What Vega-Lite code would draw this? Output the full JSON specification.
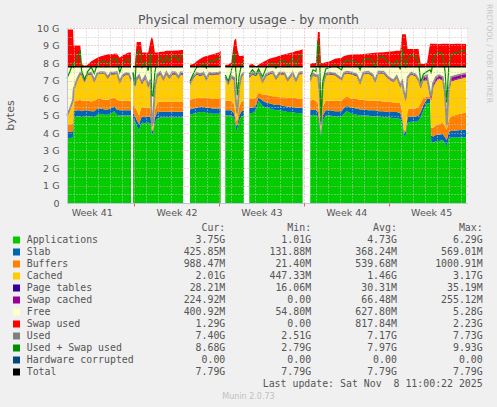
{
  "$schema": "https://vega.github.io/schema/vega-lite/v6.json",
  "width": 400,
  "height": 175,
  "autosize": {"type": "none"},
  "padding": {"left": 67, "top": 28, "right": 30, "bottom": 204},
  "background": "#F0F0F0",
  "datasets": {
    "mem": [
      {"t":0,"seg":"a","app":3.7,"slab":0.35,"buf":0.4,"cache":0.45,"pt":0.03,"swc":0.07,"free":2.79,"swap":2.13,"used":5,"us":7.13},
      {"t":0.25,"seg":"a","app":3.72,"slab":0.36,"buf":0.42,"cache":0.8,"pt":0.03,"swc":0.07,"free":2.39,"swap":2.13,"used":5.4,"us":7.53},
      {"t":0.5,"seg":"a","app":3.75,"slab":0.35,"buf":0.45,"cache":1.25,"pt":0.03,"swc":0.07,"free":1.89,"swap":2.13,"used":5.9,"us":8.03},
      {"t":0.55,"seg":"a","app":4.9,"slab":0.35,"buf":0.55,"cache":0.6,"pt":0.03,"swc":0.07,"free":1.29,"swap":1.21,"used":6.5,"us":7.71},
      {"t":0.85,"seg":"a","app":4.95,"slab":0.35,"buf":0.55,"cache":1.15,"pt":0.03,"swc":0.07,"free":0.69,"swap":1.21,"used":7.1,"us":8.31},
      {"t":1.1,"seg":"a","app":4.95,"slab":0.35,"buf":0.6,"cache":1.45,"pt":0.03,"swc":0.07,"free":0.34,"swap":1.21,"used":7.45,"us":8.66},
      {"t":1.2,"seg":"a","app":4.9,"slab":0.35,"buf":0.6,"cache":1.45,"pt":0.03,"swc":0.09,"free":0.37,"swap":0.16,"used":7.42,"us":7.58},
      {"t":1.45,"seg":"a","app":4.95,"slab":0.35,"buf":0.55,"cache":1.05,"pt":0.03,"swc":0.07,"free":0.79,"swap":0.06,"used":7,"us":7.06},
      {"t":1.7,"seg":"a","app":4.95,"slab":0.35,"buf":0.55,"cache":1.45,"pt":0.03,"swc":0.07,"free":0.39,"swap":0.11,"used":7.4,"us":7.51},
      {"t":2,"seg":"a","app":4.95,"slab":0.3,"buf":0.55,"cache":1.55,"pt":0.03,"swc":0.07,"free":0.34,"swap":0.31,"used":7.45,"us":7.76},
      {"t":2.25,"seg":"a","app":4.9,"slab":0.35,"buf":0.6,"cache":1.05,"pt":0.03,"swc":0.07,"free":0.79,"swap":0.41,"used":7,"us":7.41},
      {"t":2.5,"seg":"a","app":5.05,"slab":0.35,"buf":0.55,"cache":1.4,"pt":0.03,"swc":0.04,"free":0.37,"swap":0.51,"used":7.42,"us":7.93},
      {"t":2.8,"seg":"a","app":5.1,"slab":0.3,"buf":0.55,"cache":1.45,"pt":0.03,"swc":0.05,"free":0.31,"swap":0.59,"used":7.48,"us":8.07},
      {"t":3.1,"seg":"a","app":5.05,"slab":0.3,"buf":0.55,"cache":1.48,"pt":0.03,"swc":0.05,"free":0.33,"swap":0.66,"used":7.46,"us":8.12},
      {"t":3.35,"seg":"a","app":5.05,"slab":0.3,"buf":0.55,"cache":1.2,"pt":0.03,"swc":0.07,"free":0.59,"swap":0.71,"used":7.2,"us":7.91},
      {"t":3.6,"seg":"a","app":5.1,"slab":0.3,"buf":0.55,"cache":1.4,"pt":0.03,"swc":0.07,"free":0.34,"swap":0.71,"used":7.45,"us":8.16},
      {"t":3.9,"seg":"a","app":5.25,"slab":0.3,"buf":0.5,"cache":1.3,"pt":0.03,"swc":0.07,"free":0.34,"swap":0.74,"used":7.45,"us":8.19},
      {"t":4.1,"seg":"a","app":5.05,"slab":0.3,"buf":0.55,"cache":1.5,"pt":0.03,"swc":0.05,"free":0.31,"swap":0.76,"used":7.48,"us":8.24},
      {"t":4.35,"seg":"a","app":5,"slab":0.3,"buf":0.55,"cache":1,"pt":0.03,"swc":0.07,"free":0.84,"swap":0.51,"used":6.95,"us":7.46},
      {"t":4.6,"seg":"a","app":5,"slab":0.3,"buf":0.55,"cache":1.35,"pt":0.03,"swc":0.07,"free":0.49,"swap":0.66,"used":7.3,"us":7.96},
      {"t":4.9,"seg":"a","app":5,"slab":0.3,"buf":0.55,"cache":1.5,"pt":0.03,"swc":0.04,"free":0.37,"swap":0.76,"used":7.42,"us":8.18},
      {"t":5.1,"seg":"a","app":5,"slab":0.3,"buf":0.55,"cache":1.45,"pt":0.03,"swc":0.07,"free":0.39,"swap":0.81,"used":7.4,"us":8.21},
      {"t":5.28,"seg":"a","app":5,"slab":0.3,"buf":0.5,"cache":1.15,"pt":0.03,"swc":0.07,"free":0.74,"swap":0.81,"used":7.05,"us":7.86},
      {"t":5.45,"seg":"b","app":4.85,"slab":0.3,"buf":0.45,"cache":1.7,"pt":0.03,"swc":0.09,"free":0.37,"swap":0.06,"used":7.42,"us":7.48},
      {"t":5.6,"seg":"b","app":4.7,"slab":0.3,"buf":0.5,"cache":1.1,"pt":0.03,"swc":0.07,"free":1.09,"swap":0.06,"used":6.7,"us":6.76},
      {"t":5.75,"seg":"b","app":4.4,"slab":0.35,"buf":0.55,"cache":1.7,"pt":0.03,"swc":0.12,"free":0.64,"swap":1.41,"used":7.15,"us":8.56},
      {"t":5.95,"seg":"b","app":4.15,"slab":0.35,"buf":0.5,"cache":2.2,"pt":0.03,"swc":0.07,"free":0.49,"swap":1.41,"used":7.3,"us":8.71},
      {"t":6.1,"seg":"b","app":4.5,"slab":0.35,"buf":0.55,"cache":1.5,"pt":0.03,"swc":0.07,"free":0.79,"swap":1.41,"used":7,"us":8.41},
      {"t":6.2,"seg":"b","app":4.6,"slab":0.35,"buf":0.55,"cache":1.3,"pt":0.03,"swc":0.12,"free":0.84,"swap":0.81,"used":6.95,"us":7.76},
      {"t":6.45,"seg":"b","app":4.55,"slab":0.35,"buf":0.55,"cache":1.65,"pt":0.03,"swc":0.12,"free":0.54,"swap":0.81,"used":7.25,"us":8.06},
      {"t":6.7,"seg":"b","app":4.6,"slab":0.35,"buf":0.5,"cache":1.15,"pt":0.03,"swc":0.12,"free":1.04,"swap":0.81,"used":6.75,"us":7.56},
      {"t":6.9,"seg":"b","app":4.55,"slab":0.35,"buf":0.5,"cache":1.5,"pt":0.03,"swc":0.12,"free":0.74,"swap":1.51,"used":7.05,"us":8.56},
      {"t":7,"seg":"b","app":3.95,"slab":0.2,"buf":0.1,"cache":0.1,"pt":0.03,"swc":0.07,"free":3.34,"swap":1.71,"used":4.45,"us":6.16},
      {"t":7.1,"seg":"b","app":3.9,"slab":0.2,"buf":0.1,"cache":0.3,"pt":0.03,"swc":0.07,"free":3.19,"swap":1.51,"used":4.6,"us":6.11},
      {"t":7.25,"seg":"b","app":4.6,"slab":0.3,"buf":0.4,"cache":1.2,"pt":0.03,"swc":0.12,"free":1.14,"swap":0.81,"used":6.65,"us":7.46},
      {"t":7.45,"seg":"b","app":4.85,"slab":0.35,"buf":0.55,"cache":1.45,"pt":0.03,"swc":0.12,"free":0.44,"swap":0.81,"used":7.35,"us":8.16},
      {"t":7.7,"seg":"b","app":4.88,"slab":0.34,"buf":0.58,"cache":1.55,"pt":0.03,"swc":0.1,"free":0.31,"swap":0.86,"used":7.48,"us":8.34},
      {"t":7.95,"seg":"b","app":4.88,"slab":0.34,"buf":0.58,"cache":1.2,"pt":0.03,"swc":0.07,"free":0.69,"swap":0.86,"used":7.1,"us":7.96},
      {"t":8.2,"seg":"b","app":4.88,"slab":0.34,"buf":0.58,"cache":1.55,"pt":0.03,"swc":0.1,"free":0.31,"swap":0.91,"used":7.48,"us":8.39},
      {"t":8.45,"seg":"b","app":4.88,"slab":0.34,"buf":0.58,"cache":1.3,"pt":0.03,"swc":0.07,"free":0.59,"swap":0.91,"used":7.2,"us":8.11},
      {"t":8.7,"seg":"b","app":4.88,"slab":0.34,"buf":0.58,"cache":1.55,"pt":0.03,"swc":0.1,"free":0.31,"swap":0.91,"used":7.48,"us":8.39},
      {"t":8.95,"seg":"b","app":4.88,"slab":0.34,"buf":0.58,"cache":1.55,"pt":0.03,"swc":0.08,"free":0.33,"swap":0.93,"used":7.46,"us":8.39},
      {"t":9.2,"seg":"b","app":4.88,"slab":0.34,"buf":0.58,"cache":1.3,"pt":0.03,"swc":0.07,"free":0.59,"swap":0.93,"used":7.2,"us":8.13},
      {"t":9.4,"seg":"b","app":4.88,"slab":0.34,"buf":0.58,"cache":1.55,"pt":0.03,"swc":0.09,"free":0.32,"swap":0.96,"used":7.47,"us":8.43},
      {"t":9.57,"seg":"b","app":4.88,"slab":0.34,"buf":0.58,"cache":1.5,"pt":0.03,"swc":0.12,"free":0.34,"swap":0.96,"used":7.45,"us":8.41},
      {"t":10.15,"seg":"c","app":5.05,"slab":0.3,"buf":0.55,"cache":0.85,"pt":0.03,"swc":0.07,"free":0.94,"swap":0.11,"used":6.85,"us":6.96},
      {"t":10.4,"seg":"c","app":5.1,"slab":0.3,"buf":0.55,"cache":1.15,"pt":0.03,"swc":0.07,"free":0.59,"swap":0.16,"used":7.2,"us":7.36},
      {"t":10.7,"seg":"c","app":5.15,"slab":0.3,"buf":0.55,"cache":1.35,"pt":0.03,"swc":0.07,"free":0.34,"swap":0.31,"used":7.45,"us":7.76},
      {"t":11,"seg":"c","app":5.2,"slab":0.3,"buf":0.5,"cache":1.25,"pt":0.03,"swc":0.07,"free":0.44,"swap":0.46,"used":7.35,"us":7.81},
      {"t":11.25,"seg":"c","app":5.2,"slab":0.3,"buf":0.55,"cache":1.3,"pt":0.03,"swc":0.07,"free":0.34,"swap":0.56,"used":7.45,"us":8.01},
      {"t":11.5,"seg":"c","app":5.15,"slab":0.3,"buf":0.55,"cache":1,"pt":0.03,"swc":0.07,"free":0.69,"swap":0.61,"used":7.1,"us":7.71},
      {"t":11.75,"seg":"c","app":5.15,"slab":0.3,"buf":0.55,"cache":1.35,"pt":0.03,"swc":0.07,"free":0.34,"swap":0.66,"used":7.45,"us":8.11},
      {"t":12,"seg":"c","app":5.1,"slab":0.3,"buf":0.55,"cache":1.35,"pt":0.03,"swc":0.07,"free":0.39,"swap":0.71,"used":7.4,"us":8.11},
      {"t":12.25,"seg":"c","app":5.1,"slab":0.3,"buf":0.55,"cache":1.4,"pt":0.03,"swc":0.05,"free":0.36,"swap":0.76,"used":7.43,"us":8.19},
      {"t":12.5,"seg":"c","app":5.1,"slab":0.3,"buf":0.55,"cache":1.4,"pt":0.03,"swc":0.07,"free":0.34,"swap":0.81,"used":7.45,"us":8.26},
      {"t":12.68,"seg":"c","app":5.1,"slab":0.3,"buf":0.55,"cache":1.45,"pt":0.03,"swc":0.05,"free":0.31,"swap":0.89,"used":7.48,"us":8.37},
      {"t":13.06,"seg":"d","app":5,"slab":0.3,"buf":0.55,"cache":1.25,"pt":0.03,"swc":0.07,"free":0.59,"swap":0.11,"used":7.2,"us":7.31},
      {"t":13.3,"seg":"d","app":5,"slab":0.3,"buf":0.55,"cache":0.9,"pt":0.03,"swc":0.07,"free":0.94,"swap":0.11,"used":6.85,"us":6.96},
      {"t":13.55,"seg":"d","app":5,"slab":0.3,"buf":0.55,"cache":1.3,"pt":0.03,"swc":0.07,"free":0.54,"swap":0.26,"used":7.25,"us":7.51},
      {"t":13.8,"seg":"d","app":4.8,"slab":0.3,"buf":0.5,"cache":1.4,"pt":0.03,"swc":0.12,"free":0.64,"swap":1.51,"used":7.15,"us":8.66},
      {"t":13.95,"seg":"d","app":4.15,"slab":0.25,"buf":0.3,"cache":0.9,"pt":0.03,"swc":0.12,"free":2.04,"swap":1.61,"used":5.75,"us":7.36},
      {"t":14.05,"seg":"d","app":4.2,"slab":0.25,"buf":0.3,"cache":0.25,"pt":0.03,"swc":0.12,"free":2.64,"swap":1.01,"used":5.15,"us":6.16},
      {"t":14.2,"seg":"d","app":4.7,"slab":0.3,"buf":0.5,"cache":1,"pt":0.03,"swc":0.12,"free":1.14,"swap":0.61,"used":6.65,"us":7.26},
      {"t":14.4,"seg":"d","app":4.95,"slab":0.3,"buf":0.55,"cache":1.4,"pt":0.03,"swc":0.07,"free":0.49,"swap":0.61,"used":7.3,"us":7.91},
      {"t":14.6,"seg":"d","app":5,"slab":0.3,"buf":0.55,"cache":1.5,"pt":0.03,"swc":0.07,"free":0.34,"swap":0.66,"used":7.45,"us":8.11},
      {"t":15.04,"seg":"e","app":5.15,"slab":0.3,"buf":0.5,"cache":1.2,"pt":0.03,"swc":0.07,"free":0.54,"swap":0.11,"used":7.25,"us":7.36},
      {"t":15.3,"seg":"e","app":5.15,"slab":0.3,"buf":0.5,"cache":1.4,"pt":0.03,"swc":0.07,"free":0.34,"swap":0.16,"used":7.45,"us":7.61},
      {"t":15.6,"seg":"e","app":5.3,"slab":0.3,"buf":0.45,"cache":1.2,"pt":0.03,"swc":0.07,"free":0.44,"swap":0.01,"used":7.35,"us":7.36},
      {"t":15.8,"seg":"e","app":5.85,"slab":0.2,"buf":0.25,"cache":1.15,"pt":0.03,"swc":0.07,"free":0.24,"swap":0.11,"used":7.55,"us":7.66},
      {"t":16.14,"seg":"e","app":5.55,"slab":0.3,"buf":0.35,"cache":0.65,"pt":0.03,"swc":0.07,"free":0.84,"swap":0.26,"used":6.95,"us":7.21},
      {"t":16.42,"seg":"e","app":5.45,"slab":0.3,"buf":0.45,"cache":1.05,"pt":0.03,"swc":0.07,"free":0.44,"swap":0.36,"used":7.35,"us":7.71},
      {"t":16.69,"seg":"e","app":5.4,"slab":0.3,"buf":0.45,"cache":1.2,"pt":0.03,"swc":0.07,"free":0.34,"swap":0.46,"used":7.45,"us":7.91},
      {"t":16.97,"seg":"e","app":5.35,"slab":0.3,"buf":0.45,"cache":1.3,"pt":0.03,"swc":0.07,"free":0.29,"swap":0.51,"used":7.5,"us":8.01},
      {"t":17.24,"seg":"e","app":5.3,"slab":0.3,"buf":0.5,"cache":0.95,"pt":0.03,"swc":0.07,"free":0.64,"swap":0.56,"used":7.15,"us":7.71},
      {"t":17.52,"seg":"e","app":5.3,"slab":0.3,"buf":0.45,"cache":1.3,"pt":0.03,"swc":0.07,"free":0.34,"swap":0.63,"used":7.45,"us":8.08},
      {"t":17.93,"seg":"e","app":5.25,"slab":0.3,"buf":0.5,"cache":1.3,"pt":0.03,"swc":0.07,"free":0.34,"swap":0.71,"used":7.45,"us":8.16},
      {"t":18.2,"seg":"e","app":5.2,"slab":0.3,"buf":0.5,"cache":0.95,"pt":0.03,"swc":0.07,"free":0.74,"swap":0.76,"used":7.05,"us":7.81},
      {"t":18.62,"seg":"e","app":5.2,"slab":0.3,"buf":0.5,"cache":1.35,"pt":0.03,"swc":0.07,"free":0.34,"swap":0.83,"used":7.45,"us":8.28},
      {"t":18.89,"seg":"e","app":5.15,"slab":0.3,"buf":0.55,"cache":0.9,"pt":0.03,"swc":0.07,"free":0.79,"swap":0.89,"used":7,"us":7.89},
      {"t":19.17,"seg":"e","app":5.15,"slab":0.3,"buf":0.5,"cache":1.4,"pt":0.03,"swc":0.07,"free":0.34,"swap":0.93,"used":7.45,"us":8.38},
      {"t":19.44,"seg":"e","app":5.1,"slab":0.35,"buf":0.5,"cache":1.45,"pt":0.03,"swc":0.07,"free":0.29,"swap":0.99,"used":7.5,"us":8.49},
      {"t":20.07,"seg":"f","app":5,"slab":0.3,"buf":0.55,"cache":1.1,"pt":0.03,"swc":0.07,"free":0.74,"swap":0.16,"used":7.05,"us":7.21},
      {"t":20.3,"seg":"f","app":5.05,"slab":0.3,"buf":0.55,"cache":1.4,"pt":0.03,"swc":0.07,"free":0.39,"swap":0.21,"used":7.4,"us":7.61},
      {"t":20.55,"seg":"f","app":5,"slab":0.3,"buf":0.55,"cache":1.35,"pt":0.03,"swc":0.07,"free":0.49,"swap":0.21,"used":7.3,"us":7.51},
      {"t":20.7,"seg":"f","app":4.9,"slab":0.3,"buf":0.5,"cache":1.5,"pt":0.03,"swc":0.07,"free":0.49,"swap":1.98,"used":7.3,"us":9.28},
      {"t":20.85,"seg":"f","app":4.3,"slab":0.2,"buf":0.3,"cache":1.4,"pt":0.03,"swc":0.12,"free":1.44,"swap":1.98,"used":6.35,"us":8.33},
      {"t":20.95,"seg":"f","app":3.8,"slab":0.2,"buf":0.1,"cache":0.2,"pt":0.03,"swc":0.12,"free":3.34,"swap":0.21,"used":4.45,"us":4.66},
      {"t":21.1,"seg":"f","app":4.7,"slab":0.3,"buf":0.5,"cache":1.1,"pt":0.03,"swc":0.12,"free":1.04,"swap":0.21,"used":6.75,"us":6.96},
      {"t":21.35,"seg":"f","app":5,"slab":0.3,"buf":0.55,"cache":1.45,"pt":0.03,"swc":0.07,"free":0.39,"swap":0.26,"used":7.4,"us":7.66},
      {"t":21.7,"seg":"f","app":5,"slab":0.3,"buf":0.55,"cache":1.5,"pt":0.03,"swc":0.07,"free":0.34,"swap":0.31,"used":7.45,"us":7.76},
      {"t":22.1,"seg":"f","app":4.95,"slab":0.3,"buf":0.6,"cache":1.45,"pt":0.03,"swc":0.07,"free":0.39,"swap":0.46,"used":7.4,"us":7.86},
      {"t":22.66,"seg":"f","app":4.95,"slab":0.3,"buf":0.6,"cache":1.15,"pt":0.03,"swc":0.07,"free":0.69,"swap":0.51,"used":7.1,"us":7.61},
      {"t":22.85,"seg":"f","app":5.1,"slab":0.35,"buf":0.55,"cache":1.35,"pt":0.03,"swc":0.07,"free":0.34,"swap":0.61,"used":7.45,"us":8.06},
      {"t":23.1,"seg":"f","app":5.25,"slab":0.3,"buf":0.55,"cache":1.3,"pt":0.03,"swc":0.07,"free":0.29,"swap":0.66,"used":7.5,"us":8.16},
      {"t":23.5,"seg":"f","app":5.1,"slab":0.35,"buf":0.5,"cache":1.4,"pt":0.03,"swc":0.07,"free":0.34,"swap":0.69,"used":7.45,"us":8.14},
      {"t":23.9,"seg":"f","app":5.05,"slab":0.35,"buf":0.55,"cache":1.3,"pt":0.03,"swc":0.07,"free":0.44,"swap":0.71,"used":7.35,"us":8.06},
      {"t":24.18,"seg":"f","app":5,"slab":0.35,"buf":0.55,"cache":0.9,"pt":0.03,"swc":0.07,"free":0.89,"swap":0.71,"used":6.9,"us":7.61},
      {"t":24.45,"seg":"f","app":5,"slab":0.35,"buf":0.55,"cache":1.45,"pt":0.03,"swc":0.07,"free":0.34,"swap":0.73,"used":7.45,"us":8.18},
      {"t":24.85,"seg":"f","app":5,"slab":0.3,"buf":0.55,"cache":1.55,"pt":0.03,"swc":0.07,"free":0.29,"swap":0.76,"used":7.5,"us":8.26},
      {"t":25.2,"seg":"f","app":4.95,"slab":0.35,"buf":0.55,"cache":1.4,"pt":0.03,"swc":0.07,"free":0.44,"swap":0.78,"used":7.35,"us":8.13},
      {"t":25.41,"seg":"f","app":4.95,"slab":0.35,"buf":0.55,"cache":1.05,"pt":0.03,"swc":0.07,"free":0.79,"swap":0.79,"used":7,"us":7.79},
      {"t":25.7,"seg":"f","app":4.95,"slab":0.3,"buf":0.6,"cache":1.55,"pt":0.03,"swc":0.07,"free":0.29,"swap":0.81,"used":7.5,"us":8.31},
      {"t":26.1,"seg":"f","app":4.9,"slab":0.35,"buf":0.55,"cache":1.6,"pt":0.03,"swc":0.07,"free":0.29,"swap":0.83,"used":7.5,"us":8.33},
      {"t":26.5,"seg":"f","app":4.9,"slab":0.3,"buf":0.6,"cache":1.3,"pt":0.03,"swc":0.07,"free":0.59,"swap":0.86,"used":7.2,"us":8.06},
      {"t":26.93,"seg":"f","app":4.85,"slab":0.35,"buf":0.55,"cache":1.15,"pt":0.03,"swc":0.07,"free":0.79,"swap":0.88,"used":7,"us":7.88},
      {"t":27.2,"seg":"f","app":4.85,"slab":0.35,"buf":0.55,"cache":1.4,"pt":0.03,"swc":0.07,"free":0.54,"swap":0.91,"used":7.25,"us":8.16},
      {"t":27.5,"seg":"f","app":4.8,"slab":0.35,"buf":0.55,"cache":0.9,"pt":0.03,"swc":0.09,"free":1.07,"swap":0.91,"used":6.72,"us":7.63},
      {"t":27.65,"seg":"f","app":4.5,"slab":0.3,"buf":0.4,"cache":1.6,"pt":0.03,"swc":0.12,"free":0.84,"swap":1.86,"used":6.95,"us":8.81},
      {"t":27.8,"seg":"f","app":3.8,"slab":0.2,"buf":0.1,"cache":2.1,"pt":0.03,"swc":0.12,"free":1.44,"swap":1.86,"used":6.35,"us":8.21},
      {"t":27.95,"seg":"f","app":3.9,"slab":0.2,"buf":0.1,"cache":1.6,"pt":0.03,"swc":0.12,"free":1.84,"swap":1.86,"used":5.95,"us":7.81},
      {"t":28.1,"seg":"f","app":4.6,"slab":0.3,"buf":0.45,"cache":1.75,"pt":0.03,"swc":0.07,"free":0.59,"swap":1.01,"used":7.2,"us":8.21},
      {"t":28.4,"seg":"f","app":4.65,"slab":0.3,"buf":0.45,"cache":1.95,"pt":0.03,"swc":0.07,"free":0.34,"swap":1.01,"used":7.45,"us":8.46},
      {"t":28.75,"seg":"f","app":4.65,"slab":0.3,"buf":0.45,"cache":1.85,"pt":0.03,"swc":0.07,"free":0.44,"swap":1.01,"used":7.35,"us":8.36},
      {"t":29,"seg":"f","app":4.7,"slab":0.3,"buf":0.5,"cache":1.45,"pt":0.03,"swc":0.07,"free":0.74,"swap":1.01,"used":7.05,"us":8.06},
      {"t":29.18,"seg":"f","app":4.9,"slab":0.3,"buf":0.5,"cache":0.85,"pt":0.03,"swc":0.16,"free":1.05,"swap":0.16,"used":6.74,"us":6.9},
      {"t":29.4,"seg":"f","app":5.3,"slab":0.3,"buf":0.4,"cache":1,"pt":0.03,"swc":0.17,"free":0.59,"swap":0.16,"used":7.2,"us":7.36},
      {"t":29.7,"seg":"f","app":5.7,"slab":0.25,"buf":0.15,"cache":0.9,"pt":0.03,"swc":0.27,"free":0.49,"swap":0.21,"used":7.3,"us":7.51},
      {"t":29.95,"seg":"f","app":5.7,"slab":0.25,"buf":0.1,"cache":0.05,"pt":0.03,"swc":0.17,"free":1.49,"swap":1.31,"used":6.3,"us":7.61},
      {"t":30.05,"seg":"f","app":3.5,"slab":0.35,"buf":0.45,"cache":1.55,"pt":0.03,"swc":0.22,"free":1.69,"swap":1.31,"used":6.1,"us":7.41},
      {"t":30.2,"seg":"f","app":3.45,"slab":0.35,"buf":0.5,"cache":2.3,"pt":0.03,"swc":0.22,"free":0.94,"swap":1.31,"used":6.85,"us":8.16},
      {"t":30.45,"seg":"f","app":3.55,"slab":0.35,"buf":0.55,"cache":2.5,"pt":0.03,"swc":0.22,"free":0.59,"swap":1.31,"used":7.2,"us":8.51},
      {"t":30.7,"seg":"f","app":3.55,"slab":0.35,"buf":0.6,"cache":2.6,"pt":0.03,"swc":0.17,"free":0.49,"swap":1.29,"used":7.3,"us":8.59},
      {"t":31,"seg":"f","app":3.6,"slab":0.35,"buf":0.65,"cache":2.4,"pt":0.03,"swc":0.17,"free":0.59,"swap":1.31,"used":7.2,"us":8.51},
      {"t":31.2,"seg":"f","app":3.4,"slab":0.35,"buf":0.65,"cache":1.55,"pt":0.03,"swc":0.17,"free":1.64,"swap":1.31,"used":6.15,"us":7.46},
      {"t":31.33,"seg":"f","app":3.25,"slab":0.35,"buf":0.6,"cache":0.05,"pt":0.03,"swc":0.16,"free":3.35,"swap":1.31,"used":4.44,"us":5.75},
      {"t":31.5,"seg":"f","app":3.7,"slab":0.35,"buf":0.75,"cache":1.5,"pt":0.03,"swc":0.2,"free":1.26,"swap":1.31,"used":6.53,"us":7.84},
      {"t":31.7,"seg":"f","app":3.75,"slab":0.4,"buf":0.8,"cache":2,"pt":0.03,"swc":0.22,"free":0.59,"swap":1.29,"used":7.2,"us":8.49},
      {"t":32.1,"seg":"f","app":3.75,"slab":0.4,"buf":0.9,"cache":2,"pt":0.03,"swc":0.2,"free":0.51,"swap":1.31,"used":7.28,"us":8.59},
      {"t":32.5,"seg":"f","app":3.75,"slab":0.42,"buf":0.93,"cache":2,"pt":0.03,"swc":0.22,"free":0.44,"swap":1.31,"used":7.35,"us":8.66},
      {"t":32.92,"seg":"f","app":3.75,"slab":0.43,"buf":0.99,"cache":2.01,"pt":0.03,"swc":0.19,"free":0.39,"swap":1.29,"used":7.4,"us":8.69}
    ],
    "legend": [
      {"row":1,"name":"Applications","cur":"3.75G","min":"1.01G","avg":"4.73G","max":"6.29G"},
      {"row":2,"name":"Slab","cur":"425.85M","min":"131.88M","avg":"368.24M","max":"569.01M"},
      {"row":3,"name":"Buffers","cur":"988.47M","min":"21.40M","avg":"539.68M","max":"1000.91M"},
      {"row":4,"name":"Cached","cur":"2.01G","min":"447.33M","avg":"1.46G","max":"3.17G"},
      {"row":5,"name":"Page tables","cur":"28.21M","min":"16.06M","avg":"30.31M","max":"35.19M"},
      {"row":6,"name":"Swap cached","cur":"224.92M","min":"0.00\u00a0","avg":"66.48M","max":"255.12M"},
      {"row":7,"name":"Free","cur":"400.92M","min":"54.80M","avg":"627.80M","max":"5.28G"},
      {"row":8,"name":"Swap used","cur":"1.29G","min":"0.00\u00a0","avg":"817.84M","max":"2.23G"},
      {"row":9,"name":"Used","cur":"7.40G","min":"2.51G","avg":"7.17G","max":"7.73G"},
      {"row":10,"name":"Used + Swap used","cur":"8.68G","min":"2.79G","avg":"7.97G","max":"9.93G"},
      {"row":11,"name":"Hardware corrupted","cur":"0.00\u00a0","min":"0.00\u00a0","avg":"0.00\u00a0","max":"0.00\u00a0"},
      {"row":12,"name":"Total","cur":"7.79G","min":"7.79G","avg":"7.79G","max":"7.79G"}
    ]
  },
  "layer": [
    {
      "data": {"name": "mem"},
      "layer": [
        {
          "transform": [
            {"fold": ["app", "slab", "buf", "cache", "pt", "swc", "free", "swap"], "as": ["key", "val"]},
            {"calculate": "indexof(['app','slab','buf','cache','pt','swc','free','swap'], datum.key)", "as": "ord"}
          ],
          "encoding": {
            "x": {
              "field": "t", "type": "quantitative",
              "scale": {"domain": [0, 33], "nice": false, "zero": false},
              "axis": {
                "orient": "bottom",
                "values": [2.04, 9.04, 16.04, 23.04, 30.04],
                "labelExpr": "['Week 41','Week 42','Week 43','Week 44','Week 45'][round((datum.value - 2.04) / 7)]",
                "grid": false, "ticks": false, "labelPadding": 4,
                "labelFont": "DejaVu Sans", "labelFontSize": 9.5, "labelColor": "#555555",
                "labelFlush": false, "labelOverlap": false,
                "domainColor": "#C0C0E0",
                "title": "Munin 2.0.73",
                "titleX": 181, "titleY": 193, "titleAlign": "center", "titleBaseline": "middle",
                "titleFont": "DejaVu Sans", "titleFontSize": 8, "titleFontWeight": "normal", "titleColor": "#C0C0C0",
                "zindex": 1
              }
            },
            "y": {
              "field": "val", "type": "quantitative", "stack": "zero",
              "scale": {"domain": [0, 10], "nice": false},
              "axis": {
                "orient": "left",
                "values": [0, 1, 2, 3, 4, 5, 6, 7, 8, 9, 10],
                "labelExpr": "datum.value == 0 ? '0' : datum.value + ' G'",
                "grid": true, "gridColor": "#E8A0A0", "gridDash": [1, 2],
                "ticks": false, "labelPadding": 8,
                "labelFont": "DejaVu Sans", "labelFontSize": 9.5, "labelColor": "#555555",
                "domainColor": "#C0C0E0",
                "title": "bytes",
                "titleX": -57, "titleY": 87, "titleAngle": -90, "titleAlign": "center", "titleBaseline": "middle",
                "titleFont": "DejaVu Sans", "titleFontSize": 11, "titleFontWeight": "normal", "titleColor": "#555555",
                "zindex": 1
              }
            },
            "color": {
              "field": "key", "type": "nominal",
              "scale": {
                "domain": ["app", "slab", "buf", "cache", "pt", "swc", "free", "swap"],
                "range": ["#00CC00", "#0066B3", "#FF8000", "#FFCC00", "#330099", "#990099", "#FFFFCC", "#FF0000"]
              },
              "legend": null
            },
            "order": {"field": "ord", "type": "quantitative"}
          },
          "layer": [
            {"transform": [{"filter": "datum.seg == 'a'"}], "mark": {"type": "area"}},
            {"transform": [{"filter": "datum.seg == 'b'"}], "mark": {"type": "area"}},
            {"transform": [{"filter": "datum.seg == 'c'"}], "mark": {"type": "area"}},
            {"transform": [{"filter": "datum.seg == 'd'"}], "mark": {"type": "area"}},
            {"transform": [{"filter": "datum.seg == 'e'"}], "mark": {"type": "area"}},
            {"transform": [{"filter": "datum.seg == 'f'"}], "mark": {"type": "area"}}
          ]
        },
        {
          "mark": {"type": "line", "color": "#909090", "strokeWidth": 1.8},
          "encoding": {
            "x": {
              "field": "t", "type": "quantitative",
              "axis": {
                "orient": "top",
                "values": [0.54, 1.54, 2.54, 3.54, 4.54, 6.54, 7.54, 8.54, 9.54, 10.54, 11.54, 13.54, 14.54, 15.54, 16.54, 17.54, 18.54, 20.54, 21.54, 22.54, 23.54, 24.54, 25.54, 27.54, 28.54, 29.54, 30.54, 31.54, 32.54],
                "grid": true, "gridColor": "#C8C8C8", "gridDash": [1, 2],
                "labels": false, "ticks": false, "domain": false,
                "title": "Physical memory usage - by month",
                "titleX": 181, "titleY": -9, "titleAlign": "center", "titleBaseline": "middle",
                "titleFont": "DejaVu Sans", "titleFontSize": 12.5, "titleFontWeight": "normal", "titleColor": "#555555",
                "zindex": 1
              }
            },
            "y": {
              "field": "used", "type": "quantitative",
              "axis": {
                "orient": "right",
                "values": [0.5, 1.5, 2.5, 3.5, 4.5, 5.5, 6.5, 7.5, 8.5, 9.5],
                "grid": true, "gridColor": "#C8C8C8", "gridDash": [1, 2],
                "labels": false, "ticks": false, "domain": false,
                "title": "RRDTOOL / TOBI OETIKER",
                "titleX": 21, "titleY": 25, "titleAngle": 90, "titleAlign": "center", "titleBaseline": "middle",
                "titleFont": "DejaVu Sans", "titleFontSize": 7.7, "titleFontWeight": "normal", "titleColor": "#C8C8C8",
                "zindex": 1
              }
            },
            "detail": {"field": "seg"}
          }
        },
        {
          "mark": {"type": "line", "color": "#008F00", "strokeWidth": 1.2},
          "encoding": {
            "x": {
              "field": "t", "type": "quantitative",
              "axis": {
                "orient": "bottom",
                "values": [5.54, 12.54, 19.54, 26.54],
                "grid": true, "gridColor": "#E8A0A0", "gridDash": [1, 2],
                "labels": false, "ticks": true, "tickColor": "#E06060", "tickSize": 3,
                "domain": false, "title": null,
                "zindex": 1
              }
            },
            "y": {"field": "us", "type": "quantitative", "axis": null},
            "detail": {"field": "seg"}
          }
        },
        {
          "mark": {"type": "line", "color": "#000000", "strokeWidth": 1.6},
          "encoding": {
            "x": {"field": "t", "type": "quantitative", "axis": null},
            "y": {"datum": 7.79, "type": "quantitative", "axis": null},
            "detail": {"field": "seg"}
          }
        }
      ],
      "resolve": {"axis": {"x": "independent", "y": "independent"}}
    },
    {
      "data": {"name": "legend"},
      "layer": [
        {
          "mark": {"type": "square", "size": 49, "filled": true, "opacity": 1},
          "encoding": {
            "x": {"datum": "swatch", "type": "ordinal", "scale": {"type": "point", "domain": ["swatch", "name"], "range": [-50.5, -40.3], "padding": 0}, "axis": null},
            "y": {"field": "row", "type": "quantitative", "scale": {"domain": [0, 13], "range": [200, 356]}, "axis": null},
            "color": {
              "field": "name", "type": "nominal",
              "scale": {
                "domain": ["Applications", "Slab", "Buffers", "Cached", "Page tables", "Swap cached", "Free", "Swap used", "Used", "Used + Swap used", "Hardware corrupted", "Total"],
                "range": ["#00CC00", "#0066B3", "#FF8000", "#FFCC00", "#330099", "#990099", "#FFFFCC", "#FF0000", "#808080", "#008F00", "#00487D", "#000000"]
              },
              "legend": null
            }
          }
        },
        {
          "mark": {"type": "text", "align": "left", "baseline": "middle", "font": "DejaVu Sans Mono", "fontSize": 9.9, "color": "#555555"},
          "encoding": {
            "x": {"datum": "name", "type": "ordinal", "scale": {"type": "point", "domain": ["swatch", "name"], "range": [-50.5, -40.3], "padding": 0}, "axis": null},
            "y": {"field": "row", "type": "quantitative", "scale": {"domain": [0, 13], "range": [200, 356]}, "axis": null},
            "text": {"field": "name"}
          }
        },
        {
          "transform": [{"fold": ["cur", "min", "avg", "max"], "as": ["stat", "txt"]}],
          "mark": {"type": "text", "align": "right", "baseline": "middle", "font": "DejaVu Sans Mono", "fontSize": 9.9, "color": "#555555"},
          "encoding": {
            "x": {"field": "stat", "type": "ordinal", "scale": {"type": "point", "domain": ["cur", "min", "avg", "max"], "range": [158.3, 415.7], "padding": 0}, "axis": null},
            "y": {"field": "row", "type": "quantitative", "scale": {"domain": [0, 13], "range": [200, 356]}, "axis": null},
            "text": {"field": "txt"}
          }
        },
        {
          "data": {"values": [
            {"stat": "cur", "label": "Cur:\u00a0\u00a0", "row": 0},
            {"stat": "min", "label": "Min:\u00a0\u00a0", "row": 0},
            {"stat": "avg", "label": "Avg:\u00a0\u00a0", "row": 0},
            {"stat": "max", "label": "Max:\u00a0\u00a0", "row": 0},
            {"stat": "max", "label": "Last update: Sat Nov\u00a0 8 11:00:22 2025", "row": 13}
          ]},
          "mark": {"type": "text", "align": "right", "baseline": "middle", "font": "DejaVu Sans Mono", "fontSize": 9.9, "color": "#555555"},
          "encoding": {
            "x": {"field": "stat", "type": "ordinal", "scale": {"type": "point", "domain": ["cur", "min", "avg", "max"], "range": [158.3, 415.7], "padding": 0}, "axis": null},
            "y": {"field": "row", "type": "quantitative", "scale": {"domain": [0, 13], "range": [200, 356]}, "axis": null},
            "text": {"field": "label"}
          }
        }
      ],
      "resolve": {"scale": {"x": "independent", "color": "independent"}}
    }
  ],
  "resolve": {"scale": {"x": "independent", "y": "independent", "color": "independent"}},
  "config": {
    "view": {"fill": "#FFFFFF", "stroke": null}
  }
}
